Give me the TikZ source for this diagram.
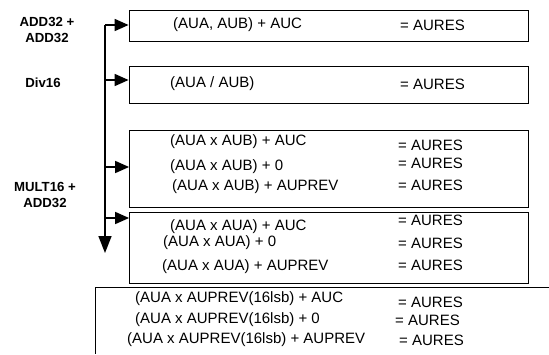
\documentclass[tikz,border=0pt]{standalone}
\usepackage{fontspec}
\setmainfont{Liberation Sans}
\usetikzlibrary{arrows.meta}
\begin{document}
\begin{tikzpicture}[x=1pt,y=-1pt,
  box/.style={draw,line width=0.8pt,inner sep=0pt},
  txt/.style={anchor=west,inner sep=0pt,font=\fontsize{15}{17}\selectfont},
  lbl/.style={align=center,inner sep=0pt,font=\fontsize{13.2}{16}\selectfont\bfseries},
  spine/.style={line width=1.6pt,-{Triangle[length=17pt,width=13pt]}},
  arr/.style={line width=1.6pt,-{Triangle[length=14pt,width=12pt]}}]
\useasboundingbox (0,0) rectangle (549,354);
% boxes
\node[box,minimum width=399pt,minimum height=31pt] (b1) at (328.5,25.5) {};
\node[box,minimum width=399pt,minimum height=37pt] (b2) at (328.5,84.5) {};
\node[box,minimum width=399pt,minimum height=77pt] (b3) at (329,168.5) {};
\node[box,minimum width=399pt,minimum height=71pt] (b4) at (329,247.5) {};
\coordinate (b5r) at (549,287);
\coordinate (b5l) at (95,287);
\coordinate (b5b) at (95,354);
\draw[line width=0.8pt] (b5r) -- (b5l) -- (b5b);
% spine
\coordinate (s1) at (105,25);
\coordinate (s2) at (105,80);
\coordinate (s3) at (105,167);
\coordinate (s4) at (105,218);
\coordinate (s5) at (105,253);
\draw[spine] (s1) -- (s5);
\draw[arr] (s1) -- (b1.west |- s1);
\draw[arr] (s2) -- (b2.west |- s2);
\draw[arr] (s3) -- (b3.west |- s3);
\draw[arr] (s4) -- (b4.west |- s4);
% labels
\node[lbl] (l1) at (47,30) {ADD32 +\\ADD32};
\node[lbl] (l2) at (43,83) {Div16};
\node[lbl] (l3) at (45,195) {MULT16 +\\ADD32};
% texts
\node[txt] (t1) at (173,25) {(AUA, AUB) + AUC};
\node[txt] (r1) at (400,25) {= AURES};
\node[txt] (t2) at (170,84) {(AUA / AUB)};
\node[txt] (r2) at (400,84) {= AURES};
\node[txt] (t3a) at (170,142) {(AUA x AUB) + AUC};
\node[txt] (r3a) at (398,145) {= AURES};
\node[txt] (t3b) at (170,167) {(AUA x AUB) + 0};
\node[txt] (r3b) at (398,163) {= AURES};
\node[txt] (t3c) at (172,187) {(AUA x AUB) + AUPREV};
\node[txt] (r3c) at (398,185) {= AURES};
\node[txt] (t4a) at (170,227) {(AUA x AUA) + AUC};
\node[txt] (r4a) at (398,220) {= AURES};
\node[txt] (t4b) at (163,243) {(AUA x AUA) + 0};
\node[txt] (r4b) at (398,243) {= AURES};
\node[txt] (t4c) at (162,267) {(AUA x AUA) + AUPREV};
\node[txt] (r4c) at (398,265) {= AURES};
\node[txt] (t5a) at (135,299) {(AUA x AUPREV(16lsb) + AUC};
\node[txt] (r5a) at (398,302) {= AURES};
\node[txt] (t5b) at (135,320) {(AUA x AUPREV(16lsb) + 0};
\node[txt] (r5b) at (395,320) {= AURES};
\node[txt] (t5c) at (127,340) {(AUA x AUPREV(16lsb) + AUPREV};
\node[txt] (r5c) at (399,340) {= AURES};
\end{tikzpicture}
\end{document}
